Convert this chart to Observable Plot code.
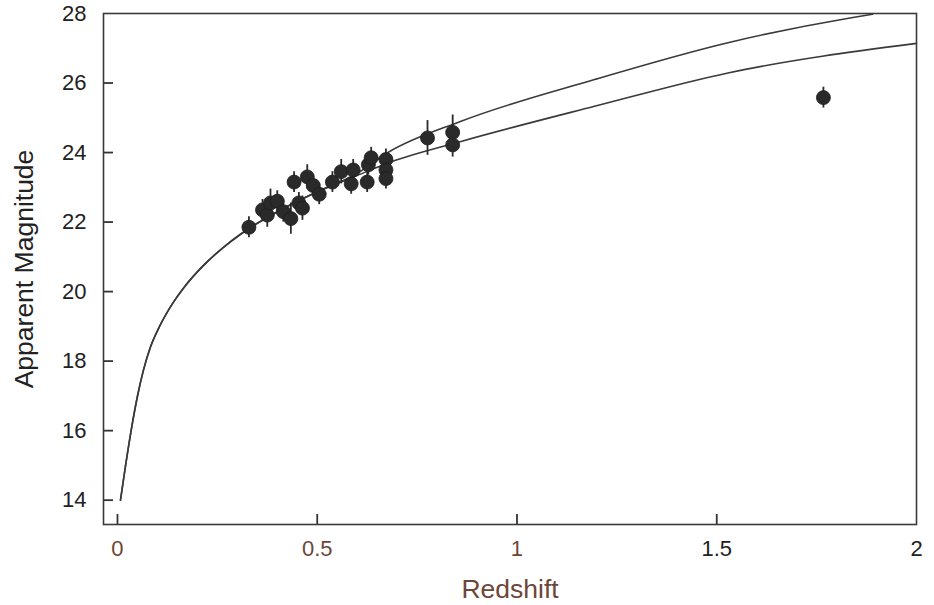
<!DOCTYPE html>
<html>
<head>
<meta charset="utf-8">
<script src="https://cdn.jsdelivr.net/npm/d3@7"></script>
<script src="https://cdn.jsdelivr.net/npm/@observablehq/plot@0.6"></script>
<style>
  html, body { margin: 0; padding: 0; background: #fff; }
  #chart { width: 934px; height: 605px; }
</style>
</head>
<body>
<div id="chart"></div>
<script>
// Observed supernovae: redshift, apparent magnitude, error (mag)
const snZ   = [0.329, 0.363, 0.375, 0.383, 0.400, 0.415, 0.434, 0.442, 0.454, 0.463, 0.475, 0.490, 0.505, 0.538, 0.560, 0.585, 0.590, 0.625, 0.628, 0.635, 0.672, 0.672, 0.672, 0.776, 0.839, 0.839, 1.767];
const snMag = [21.85, 22.35, 22.20, 22.55, 22.60, 22.30, 22.10, 23.15, 22.55, 22.40, 23.30, 23.05, 22.80, 23.15, 23.45, 23.10, 23.50, 23.15, 23.65, 23.85, 23.80, 23.50, 23.25, 24.42, 24.58, 24.22, 25.58];
const snErr = [0.30, 0.30, 0.35, 0.40, 0.30, 0.30, 0.45, 0.30, 0.30, 0.35, 0.35, 0.30, 0.30, 0.30, 0.35, 0.30, 0.30, 0.30, 0.30, 0.30, 0.30, 0.30, 0.30, 0.50, 0.50, 0.35, 0.30];

// Model curves
const upperZ   = [0.0075, 0.020, 0.035, 0.050, 0.065, 0.083, 0.105, 0.141, 0.166, 0.216, 0.266, 0.308, 0.42, 0.50, 0.60, 0.677, 0.86, 1.194, 1.528, 1.837, 1.89];
const upperMag = [14.0, 14.98, 16.06, 16.99, 17.74, 18.42, 18.99, 19.71, 20.11, 20.76, 21.28, 21.65, 22.42, 22.87, 23.40, 24.0, 24.9, 26.1, 27.16, 27.88, 27.98];
const lowerZ   = [0.0075, 0.020, 0.035, 0.050, 0.065, 0.083, 0.105, 0.141, 0.166, 0.216, 0.266, 0.308, 0.42, 0.50, 0.60, 0.677, 0.86, 1.194, 1.528, 2.0];
const lowerMag = [14.0, 14.98, 16.06, 16.99, 17.74, 18.42, 18.99, 19.71, 20.11, 20.76, 21.28, 21.65, 22.42, 22.87, 23.34, 23.7, 24.32, 25.33, 26.29, 27.14];

const xTicks = [0, 0.5, 1, 1.5, 2];
const yTicks = [14, 16, 18, 20, 22, 24, 26, 28];
const yTickMarks = [14, 16, 18, 20, 22, 24, 26];
const xTickMarks = [0, 0.5, 1, 1.5];
const xLabel = "Redshift";
const yLabel = "Apparent Magnitude";

const sn = snZ.map((z, i) => ({z, m: snMag[i], e: snErr[i]}));
const upper = upperZ.map((z, i) => ({z, m: upperMag[i]}));
const lower = lowerZ.map((z, i) => ({z, m: lowerMag[i]}));

const ink = "#2e2e2e";
const brown = "#6d4638";
const W = 934, H = 605, ML = 103, MR = 18, MT = 13, MB = 81;
const frameW = W - ML - MR, frameH = H - MT - MB;
const xDomain = [-0.035, 2.0];
const yDomain = [13.3, 28];

const chart = Plot.plot({
  width: W,
  height: H,
  marginLeft: ML,
  marginRight: MR,
  marginTop: MT,
  marginBottom: MB,
  style: {fontFamily: "'Liberation Sans', Arial, sans-serif", fontSize: "22px", background: "#fff", color: ink},
  x: {domain: xDomain},
  y: {domain: yDomain},
  marks: [
    // inward tick marks (short rules hugging the left and bottom frame edges)
    Plot.tickY(yTickMarks, {y: d => d, insetRight: frameW - 10, stroke: "#333", strokeWidth: 1.8}),
    Plot.tickX(xTickMarks, {x: d => d, insetTop: frameH - 10, stroke: "#333", strokeWidth: 1.8}),
    Plot.line(upper, {x: "z", y: "m", stroke: "#3a3a3a", strokeWidth: 1.6, curve: "monotone-x"}),
    Plot.line(lower, {x: "z", y: "m", stroke: "#3a3a3a", strokeWidth: 1.6, curve: "monotone-x"}),
    Plot.ruleX(sn, {x: "z", y1: d => d.m - d.e, y2: d => d.m + d.e, stroke: "#2a2a2a", strokeWidth: 1.8}),
    Plot.dot(sn, {x: "z", y: "m", r: 7, fill: "#2a2a2a", stroke: "#1e1e1e", strokeWidth: 0.8}),
    Plot.frame({stroke: "#3a3a3a", strokeWidth: 1.6}),
    Plot.axisY({ticks: yTicks, tickSize: 0, tickPadding: 17, tickFormat: d => String(d), label: null, fontSize: 22, fill: "#222"}),
    Plot.axisX({ticks: xTicks, tickSize: 0, tickPadding: 16, tickFormat: d => String(d), label: null, fontSize: 22, fill: d => d >= 1.5 ? "#222" : brown}),
    Plot.text([xLabel], {text: d => d, frameAnchor: "bottom", dy: 73, fontSize: 26.5, fill: brown}),
    Plot.text([yLabel], {text: d => d, frameAnchor: "left", textAnchor: "middle", dx: -79, rotate: -90, fontSize: 26.5, fill: "#222"})
  ]
});
document.getElementById("chart").appendChild(chart);
</script>
</body>
</html>
